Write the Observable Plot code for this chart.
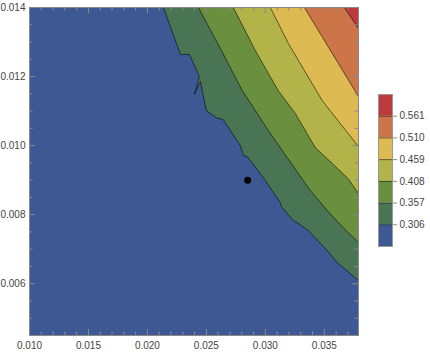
<!DOCTYPE html>
<html><head><meta charset="utf-8">
<script src="https://cdn.jsdelivr.net/npm/d3@7"></script>
<script src="https://cdn.jsdelivr.net/npm/@observablehq/plot@0.6"></script>
<style>
body{margin:0;background:#fff;}
#wrap{position:relative;width:430px;height:356px;}
#main{position:absolute;left:0;top:0;}
#legend{position:absolute;left:370px;top:0;}
</style></head><body><div id="wrap"><div id="main"></div><div id="legend"></div></div>
<script>
// ---- data ----
const levels = [0.306, 0.357, 0.408, 0.459, 0.510, 0.561];
const colors = ["#3E5893", "#4A7555", "#6A8F3E", "#B2B44A", "#DEBA52", "#CC7548", "#BE3B3D"];
const xDomain = [0.010, 0.0379];
const yDomain = [0.0045, 0.014];
const legendDomain = [0.255, 0.612];
const xMajor = [0.010, 0.015, 0.020, 0.025, 0.030, 0.035];
const yMajor = [0.006, 0.008, 0.010, 0.012, 0.014];

// contour boundaries [x, y], from top edge to right edge
const c306 = [[0.02136,0.01400],[0.02280,0.01264],[0.02356,0.01264],[0.02441,0.01200],[0.02398,0.01148],[0.02449,0.01186],[0.02500,0.01101],[0.02585,0.01081],[0.02644,0.01075],[0.02788,0.01000],[0.02814,0.00971],[0.02847,0.00968],[0.02958,0.00919],[0.03000,0.00899],[0.03127,0.00835],[0.03136,0.00823],[0.03237,0.00783],[0.03271,0.00777],[0.03364,0.00754],[0.03525,0.00696],[0.03610,0.00661],[0.03763,0.00617],[0.0379,0.00609]];
const c357 = [[0.02432,0.01400],[0.02619,0.01281],[0.02805,0.01159],[0.03042,0.01035],[0.03381,0.00870],[0.03525,0.00812],[0.03661,0.00762],[0.0379,0.00719]];
const c408 = [[0.02729,0.01400],[0.02915,0.01275],[0.03110,0.01159],[0.03254,0.01093],[0.03424,0.00994],[0.03568,0.00948],[0.03703,0.00904],[0.0379,0.00861]];
const c459 = [[0.03042,0.01400],[0.03195,0.01296],[0.03483,0.01130],[0.0379,0.00997]];
const c510 = [[0.03331,0.01400],[0.0379,0.01142]];
const c561 = [[0.03670,0.01400],[0.0379,0.01339]];
const point = [{x: 0.0285, y: 0.0090}];

// ---- main chart ----
const boundaries = [c306, c357, c408, c459, c510, c561];
const corner = [xDomain[1], yDomain[1]];
const xMinor = d3.range(10, 38).map(d => d / 1000).filter(v => !xMajor.some(m => Math.abs(m - v) < 1e-9));
const yMinor = d3.range(9, 29).map(d => d / 2000).filter(v => !yMajor.some(m => Math.abs(m - v) < 1e-9));
const PW = 329, PH = 328;
const tickC = "#888";
const marks = [Plot.frame({fill: colors[0], stroke: null})];
boundaries.forEach((b, i) => {
  marks.push(Plot.line([...b, corner], {x: d => d[0], y: d => d[1], fill: colors[i + 1], stroke: "none"}));
});
boundaries.forEach(b => {
  marks.push(Plot.line(b, {x: d => d[0], y: d => d[1], stroke: "#000", strokeOpacity: 0.55, strokeWidth: 1}));
});
marks.push(
  Plot.dot(point, {x: "x", y: "y", r: 3.5, fill: "#000", stroke: "none"}),
  Plot.frame({stroke: tickC, strokeWidth: 1}),
  Plot.tickX(xMajor, {x: d => d, stroke: tickC, insetTop: PH - 6}),
  Plot.tickX(xMinor, {x: d => d, stroke: tickC, insetTop: PH - 3.5}),
  Plot.tickX(xMajor, {x: d => d, stroke: tickC, insetBottom: PH - 6}),
  Plot.tickX(xMinor, {x: d => d, stroke: tickC, insetBottom: PH - 3.5}),
  Plot.tickY(yMajor, {y: d => d, stroke: tickC, insetRight: PW - 6}),
  Plot.tickY(yMinor, {y: d => d, stroke: tickC, insetRight: PW - 3.5}),
  Plot.tickY(yMajor, {y: d => d, stroke: tickC, insetLeft: PW - 6}),
  Plot.tickY(yMinor, {y: d => d, stroke: tickC, insetLeft: PW - 3.5}),
  Plot.axisX(xMajor, {tickSize: 0, tickPadding: 6, tickFormat: d3.format(".3f"), label: null, fill: "#444"}),
  Plot.axisY(yMajor, {tickSize: 0, tickPadding: 4, tickFormat: d3.format(".3f"), label: null, fill: "#444"})
);
const main = Plot.plot({
  width: 370, height: 356,
  marginLeft: 29, marginRight: 12, marginTop: 7, marginBottom: 21,
  x: {domain: xDomain},
  y: {domain: yDomain},
  style: {fontFamily: "Liberation Sans, Arial, sans-serif", fontSize: "10px", background: "transparent"},
  marks
});
document.getElementById("main").appendChild(main);

// ---- legend ----
const bins = colors.map((c, i) => ({lo: i === 0 ? legendDomain[0] : levels[i - 1], hi: i === colors.length - 1 ? legendDomain[1] : levels[i], c}));
const legend = Plot.plot({
  width: 60, height: 356,
  marginLeft: 8, marginRight: 38, marginTop: 94, marginBottom: 110,
  x: {domain: [0, 1], axis: null},
  y: {domain: legendDomain},
  color: {type: "identity"},
  style: {fontFamily: "Liberation Sans, Arial, sans-serif", fontSize: "10px", background: "transparent"},
  marks: [
    Plot.rect(bins, {x1: 0, x2: 1, y1: "lo", y2: "hi", fill: "c"}),
    Plot.ruleY(levels, {stroke: "#000", strokeOpacity: 0.5}),
    Plot.frame({stroke: "#999"}),
    Plot.axisY(levels, {anchor: "right", tickSize: 4, tickPadding: 3, tickFormat: d3.format(".3f"), label: null, stroke: tickC, fill: "#444"})
  ]
});
document.getElementById("legend").appendChild(legend);
</script></body></html>
